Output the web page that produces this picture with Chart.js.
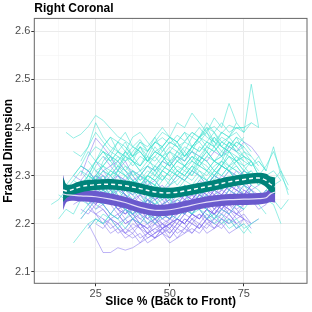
<!DOCTYPE html>
<html>
<head>
<meta charset="utf-8">
<script src="https://cdn.jsdelivr.net/npm/chart.js@4.4.1/dist/chart.umd.min.js"></script>
<style>
  html, body { margin: 0; padding: 0; background: #fff; }
  #fdChart { display: block; }
</style>
</head>
<body>
<canvas id="fdChart" width="312" height="312"></canvas>
<script>
// slice positions shared by the per-subject traces
const sliceGrid = [10, 12.5, 15, 17.5, 20, 22.5, 25, 27.5, 30, 32.5, 35, 37.5, 40, 42.5, 45, 47.5, 50,
  52.5, 55, 57.5, 60, 62.5, 65, 67.5, 70, 72.5, 75, 77.5, 80, 82.5, 85, 87.5, 90];

// turquoise group: index into sliceGrid where each trace starts, then its values
const tealStarts = [2, 4, 10, 6, 0, 1, 3, 4, 5, 6, 4, 3, 6, 5, 7, 4, 8, 2, 6, 5, 7, 3, 9, 28,
  3, 5, 4, 6, 2, 7, 4, 8, 5, 3, 6, 9, 1, 5, 7, 4, 29, 10];
const tealLines = [
  [2.39, 2.378, 2.386, 2.402, 2.425, 2.415, 2.398, 2.381, 2.372, 2.36, 2.375, 2.352, 2.368, 2.379, 2.366, 2.384, 2.372, 2.39, 2.378, 2.395, 2.402, 2.388, 2.405, 2.398, 2.4],
  [2.33, 2.36, 2.41, 2.38, 2.36, 2.35, 2.37, 2.34, 2.36, 2.35, 2.37, 2.39, 2.38, 2.41, 2.40, 2.43, 2.41, 2.39, 2.42, 2.40, 2.45, 2.41],
  [2.31, 2.33, 2.32, 2.34, 2.31, 2.33, 2.35, 2.33, 2.34, 2.36, 2.35, 2.37, 2.36, 2.39, 2.38, 2.41, 2.39, 2.49, 2.40],
  [2.30, 2.32, 2.34, 2.33, 2.35, 2.33, 2.36, 2.34, 2.37, 2.36, 2.38, 2.37, 2.39, 2.36, 2.38, 2.40, 2.39, 2.41, 2.39, 2.40, 2.40, 2.41, 2.40],
  [2.24, 2.25, 2.27, 2.29, 2.28, 2.30, 2.29, 2.31, 2.30, 2.32, 2.30, 2.31, 2.29, 2.30, 2.32, 2.31, 2.33, 2.31, 2.32, 2.34, 2.33, 2.35, 2.33, 2.34, 2.32, 2.33, 2.31, 2.33, 2.30, 2.32, 2.35, 2.31, 2.26],
  [2.21, 2.23, 2.22, 2.25, 2.24, 2.26, 2.27, 2.25, 2.28, 2.27, 2.29, 2.28, 2.30, 2.29, 2.31, 2.30, 2.32, 2.31, 2.33, 2.32, 2.34, 2.33, 2.32, 2.31, 2.29, 2.30, 2.28, 2.27, 2.25, 2.24, 2.20],
  [2.16, 2.18, 2.20, 2.21, 2.20, 2.22, 2.21, 2.23, 2.22, 2.24, 2.23, 2.22, 2.24, 2.25, 2.23, 2.24, 2.22, 2.23, 2.21, 2.22, 2.20, 2.21, 2.19, 2.20, 2.18],
  [2.26, 2.28, 2.30, 2.32, 2.31, 2.33, 2.35, 2.34, 2.36, 2.33, 2.35, 2.34, 2.32, 2.35, 2.37, 2.36, 2.38, 2.36, 2.35, 2.37, 2.36, 2.38, 2.35, 2.33, 2.30],
  [2.30, 2.33, 2.35, 2.34, 2.37, 2.39, 2.36, 2.35, 2.33, 2.36, 2.34, 2.35, 2.37, 2.35, 2.38, 2.37, 2.39, 2.36, 2.38, 2.37, 2.35, 2.36],
  [2.28, 2.30, 2.29, 2.31, 2.30, 2.28, 2.30, 2.29, 2.27, 2.29, 2.31, 2.30, 2.32, 2.31, 2.33, 2.32, 2.30, 2.32, 2.31, 2.33, 2.32, 2.30, 2.29],
  [2.22, 2.24, 2.26, 2.25, 2.27, 2.26, 2.24, 2.25, 2.23, 2.25, 2.24, 2.26, 2.25, 2.27, 2.26, 2.28, 2.27, 2.29, 2.28, 2.27, 2.29, 2.28, 2.26, 2.25, 2.24, 2.22],
  [2.30, 2.32, 2.31, 2.33, 2.35, 2.34, 2.32, 2.34, 2.33, 2.31, 2.33, 2.32, 2.34, 2.33, 2.35, 2.34, 2.36, 2.35, 2.37, 2.36, 2.34, 2.35, 2.33, 2.34, 2.32, 2.33, 2.31],
  [2.25, 2.27, 2.26, 2.28, 2.27, 2.25, 2.27, 2.26, 2.24, 2.25, 2.27, 2.26, 2.28, 2.27, 2.29, 2.31, 2.30, 2.32, 2.31, 2.29, 2.30, 2.28],
  [2.34, 2.36, 2.35, 2.33, 2.35, 2.34, 2.36, 2.35, 2.33, 2.34, 2.36, 2.38, 2.37, 2.39, 2.38, 2.40, 2.38, 2.37, 2.39, 2.38, 2.36],
  [2.24, 2.22, 2.24, 2.23, 2.21, 2.23, 2.22, 2.20, 2.22, 2.21, 2.23, 2.22, 2.24, 2.23, 2.22, 2.20, 2.21, 2.19, 2.20, 2.18, 2.20, 2.21],
  [2.29, 2.27, 2.29, 2.28, 2.26, 2.28, 2.27, 2.29, 2.28, 2.30, 2.29, 2.31, 2.30, 2.28, 2.30, 2.29, 2.31, 2.30, 2.32, 2.33, 2.31, 2.32, 2.30, 2.31, 2.29, 2.30, 2.28, 2.29],
  [2.32, 2.34, 2.33, 2.35, 2.37, 2.36, 2.38, 2.35, 2.37, 2.36, 2.34, 2.36, 2.38, 2.37, 2.39, 2.36, 2.35, 2.33, 2.34],
  [2.27, 2.25, 2.27, 2.29, 2.28, 2.26, 2.28, 2.27, 2.25, 2.27, 2.26, 2.24, 2.26, 2.25, 2.27, 2.26, 2.28, 2.27, 2.25, 2.26, 2.24, 2.25, 2.27, 2.26, 2.28, 2.27, 2.25, 2.27, 2.29, 2.31, 2.28],
  [2.31, 2.29, 2.31, 2.30, 2.32, 2.31, 2.29, 2.31, 2.30, 2.32, 2.31, 2.33, 2.32, 2.34, 2.33, 2.35, 2.33, 2.32, 2.34, 2.33, 2.35, 2.34, 2.32],
  [2.19, 2.21, 2.20, 2.22, 2.21, 2.19, 2.21, 2.20, 2.22, 2.21, 2.23, 2.22, 2.21, 2.23, 2.22, 2.24, 2.23, 2.21, 2.22, 2.20, 2.21, 2.19, 2.20],
  [2.35, 2.33, 2.35, 2.34, 2.32, 2.34, 2.33, 2.35, 2.34, 2.32, 2.34, 2.33, 2.35, 2.34, 2.36, 2.35, 2.37, 2.36, 2.38, 2.37, 2.35],
  [2.25, 2.28, 2.30, 2.29, 2.31, 2.30, 2.28, 2.30, 2.29, 2.27, 2.29, 2.28, 2.30, 2.29, 2.31, 2.30, 2.32, 2.30, 2.29, 2.31, 2.30, 2.32, 2.31, 2.29, 2.30, 2.28, 2.30, 2.31, 2.29],
  [2.27, 2.29, 2.28, 2.30, 2.32, 2.31, 2.29, 2.31, 2.33, 2.32, 2.30, 2.32, 2.31, 2.33, 2.35, 2.34, 2.32, 2.30, 2.31],
  [2.33, 2.31, 2.36, 2.30, 2.27],
  [2.29, 2.31, 2.30, 2.33, 2.32, 2.30, 2.31, 2.34, 2.33, 2.31, 2.32, 2.30, 2.33, 2.35, 2.34, 2.32, 2.33, 2.36, 2.35, 2.33, 2.34, 2.37, 2.36, 2.34, 2.33, 2.31],
  [2.27, 2.26, 2.29, 2.31, 2.30, 2.28, 2.27, 2.30, 2.29, 2.28, 2.31, 2.33, 2.31, 2.30, 2.32, 2.34, 2.33, 2.31, 2.30, 2.32, 2.31],
  [2.32, 2.35, 2.33, 2.36, 2.38, 2.35, 2.33, 2.34, 2.32, 2.35, 2.37, 2.36, 2.33, 2.34, 2.36, 2.35, 2.38, 2.40, 2.37, 2.36, 2.38, 2.39, 2.37],
  [2.23, 2.25, 2.24, 2.27, 2.26, 2.24, 2.23, 2.26, 2.28, 2.26, 2.25, 2.27, 2.29, 2.28, 2.26, 2.28, 2.30, 2.29, 2.27, 2.29, 2.28, 2.26],
  [2.28, 2.30, 2.32, 2.31, 2.29, 2.33, 2.35, 2.34, 2.32, 2.30, 2.31, 2.29, 2.31, 2.33, 2.32, 2.30, 2.29, 2.31, 2.34, 2.33, 2.31, 2.33, 2.36, 2.35, 2.33, 2.32, 2.34, 2.31],
  [2.36, 2.38, 2.37, 2.35, 2.38, 2.39, 2.37, 2.35, 2.36, 2.38, 2.37, 2.34, 2.36, 2.38, 2.39, 2.37, 2.35, 2.37, 2.36, 2.38],
  [2.21, 2.23, 2.25, 2.24, 2.26, 2.25, 2.23, 2.22, 2.24, 2.26, 2.25, 2.23, 2.24, 2.27, 2.26, 2.24, 2.25, 2.28, 2.27, 2.25, 2.26, 2.24, 2.23, 2.25],
  [2.26, 2.29, 2.28, 2.26, 2.27, 2.30, 2.32, 2.30, 2.28, 2.29, 2.31, 2.30, 2.33, 2.31, 2.29, 2.32, 2.34, 2.33, 2.31, 2.30],
  [2.33, 2.31, 2.32, 2.34, 2.33, 2.31, 2.30, 2.28, 2.30, 2.29, 2.27, 2.29, 2.31, 2.30, 2.32, 2.31, 2.29, 2.31, 2.33, 2.32, 2.34, 2.33],
  [2.35, 2.34, 2.36, 2.39, 2.37, 2.35, 2.37, 2.36, 2.34, 2.35, 2.33, 2.35, 2.34, 2.36, 2.35, 2.33, 2.36, 2.37, 2.35, 2.38, 2.36, 2.35, 2.37, 2.36],
  [2.20, 2.22, 2.21, 2.19, 2.21, 2.23, 2.22, 2.20, 2.22, 2.21, 2.23, 2.25, 2.24, 2.22, 2.24, 2.23, 2.21, 2.23, 2.22, 2.24, 2.23],
  [2.30, 2.28, 2.31, 2.30, 2.32, 2.34, 2.32, 2.31, 2.33, 2.35, 2.33, 2.32, 2.34, 2.36, 2.34, 2.37, 2.35, 2.34, 2.33],
  [2.26, 2.25, 2.28, 2.27, 2.30, 2.29, 2.27, 2.28, 2.31, 2.30, 2.28, 2.27, 2.29, 2.28, 2.26, 2.28, 2.30, 2.29, 2.31, 2.30, 2.28, 2.30, 2.32, 2.31, 2.29, 2.31, 2.30, 2.28, 2.29],
  [2.29, 2.32, 2.34, 2.33, 2.31, 2.35, 2.33, 2.32, 2.34, 2.33, 2.35, 2.37, 2.36, 2.34, 2.35, 2.33, 2.36, 2.38, 2.36, 2.35, 2.37, 2.36, 2.34],
  [2.24, 2.26, 2.25, 2.27, 2.29, 2.27, 2.26, 2.28, 2.27, 2.25, 2.27, 2.26, 2.28, 2.30, 2.29, 2.27, 2.29, 2.31, 2.30, 2.28],
  [2.31, 2.29, 2.30, 2.28, 2.30, 2.32, 2.31, 2.29, 2.27, 2.28, 2.30, 2.29, 2.31, 2.30, 2.32, 2.34, 2.32, 2.31, 2.33, 2.32, 2.35, 2.34, 2.32, 2.33],
  [2.27, 2.25, 2.23, 2.25],
  [2.36, 2.34, 2.37, 2.35, 2.38, 2.40, 2.38, 2.36, 2.37, 2.39, 2.38, 2.41, 2.39, 2.37, 2.38, 2.40, 2.39, 2.41]
];

// purple group
const purpleStarts = [4, 8, 5, 3, 5, 4, 6, 5, 7, 4, 6, 8, 3, 5, 6, 7, 4, 9, 5, 6,
  5, 4, 7, 3, 6, 8, 5, 4, 6, 9, 3, 7, 5, 6, 4, 8, 6, 10];
const purpleLines = [
  [2.30, 2.34, 2.378, 2.36, 2.34, 2.31, 2.33, 2.30, 2.28, 2.29, 2.27, 2.28, 2.26, 2.27, 2.25, 2.26, 2.24, 2.25, 2.23, 2.24, 2.22],
  [2.28, 2.30, 2.29, 2.31, 2.30, 2.32, 2.31, 2.33, 2.32, 2.34, 2.33, 2.35, 2.34, 2.33, 2.35, 2.34, 2.36, 2.35, 2.37, 2.36, 2.34],
  [2.20, 2.17, 2.14, 2.14, 2.15, 2.145, 2.15, 2.16, 2.17, 2.18, 2.19, 2.20, 2.21, 2.20, 2.22, 2.21, 2.23, 2.22, 2.24, 2.23],
  [2.27, 2.26, 2.25, 2.27, 2.26, 2.24, 2.25, 2.23, 2.22, 2.23, 2.21, 2.22, 2.20, 2.21, 2.22, 2.23, 2.22, 2.24, 2.23, 2.25, 2.24, 2.26, 2.25, 2.27, 2.26, 2.25, 2.27, 2.26],
  [2.24, 2.22, 2.23, 2.21, 2.20, 2.21, 2.19, 2.20, 2.18, 2.19, 2.20, 2.19, 2.21, 2.20, 2.22, 2.21, 2.23, 2.22, 2.21, 2.23, 2.22, 2.24],
  [2.29, 2.28, 2.30, 2.29, 2.27, 2.28, 2.26, 2.25, 2.26, 2.24, 2.25, 2.23, 2.24, 2.25, 2.24, 2.26, 2.25, 2.27, 2.26, 2.28, 2.27, 2.29, 2.28, 2.27],
  [2.22, 2.21, 2.19, 2.20, 2.18, 2.19, 2.17, 2.18, 2.19, 2.18, 2.20, 2.19, 2.21, 2.20, 2.19, 2.21, 2.20, 2.22, 2.21, 2.19, 2.20],
  [2.26, 2.27, 2.25, 2.26, 2.24, 2.23, 2.24, 2.22, 2.23, 2.21, 2.22, 2.23, 2.22, 2.24, 2.23, 2.25, 2.24, 2.26, 2.25, 2.24, 2.26, 2.25, 2.27, 2.26],
  [2.31, 2.29, 2.30, 2.28, 2.27, 2.28, 2.26, 2.27, 2.25, 2.26, 2.27, 2.26, 2.28, 2.27, 2.29, 2.28, 2.30, 2.29, 2.31, 2.30, 2.28],
  [2.23, 2.22, 2.24, 2.23, 2.21, 2.22, 2.20, 2.21, 2.19, 2.20, 2.18, 2.19, 2.20, 2.21, 2.20, 2.22, 2.21, 2.23, 2.22, 2.24, 2.23, 2.22, 2.21, 2.20, 2.21],
  [2.33, 2.31, 2.32, 2.30, 2.29, 2.27, 2.28, 2.26, 2.25, 2.26, 2.24, 2.25, 2.26, 2.25, 2.27, 2.26, 2.28, 2.27, 2.29, 2.28, 2.30, 2.29],
  [2.25, 2.24, 2.22, 2.23, 2.21, 2.20, 2.21, 2.19, 2.20, 2.21, 2.20, 2.22, 2.21, 2.23, 2.22, 2.24, 2.23, 2.21, 2.22, 2.20],
  [2.24, 2.25, 2.27, 2.26, 2.24, 2.25, 2.23, 2.24, 2.22, 2.21, 2.22, 2.20, 2.21, 2.22, 2.21, 2.23, 2.22, 2.24, 2.23, 2.25, 2.24, 2.26, 2.25, 2.24, 2.25, 2.23, 2.24, 2.26],
  [2.28, 2.30, 2.29, 2.27, 2.28, 2.26, 2.25, 2.24, 2.25, 2.23, 2.24, 2.25, 2.24, 2.26, 2.25, 2.27, 2.26, 2.25, 2.27, 2.26, 2.28, 2.27, 2.26],
  [2.20, 2.19, 2.21, 2.20, 2.18, 2.17, 2.18, 2.16, 2.17, 2.18, 2.17, 2.19, 2.18, 2.20, 2.19, 2.21, 2.20, 2.19, 2.21, 2.20],
  [2.27, 2.26, 2.24, 2.25, 2.23, 2.22, 2.23, 2.21, 2.22, 2.23, 2.22, 2.24, 2.23, 2.25, 2.24, 2.26, 2.25, 2.27, 2.26, 2.25, 2.24, 2.26],
  [2.32, 2.31, 2.29, 2.30, 2.28, 2.29, 2.27, 2.28, 2.26, 2.27, 2.25, 2.26, 2.27, 2.26, 2.28, 2.27, 2.29, 2.28, 2.30, 2.29, 2.31, 2.30, 2.29],
  [2.23, 2.21, 2.22, 2.20, 2.19, 2.20, 2.18, 2.19, 2.17, 2.18, 2.19, 2.18, 2.20, 2.19, 2.21, 2.20, 2.22, 2.21, 2.19],
  [2.25, 2.24, 2.26, 2.24, 2.22, 2.23, 2.21, 2.22, 2.20, 2.21, 2.22, 2.21, 2.23, 2.22, 2.24, 2.23, 2.25, 2.24, 2.23, 2.25, 2.24, 2.26, 2.25],
  [2.29, 2.27, 2.28, 2.26, 2.24, 2.25, 2.23, 2.24, 2.22, 2.23, 2.24, 2.23, 2.25, 2.24, 2.26, 2.25, 2.27, 2.26, 2.28, 2.27, 2.26, 2.28],
  [2.25, 2.23, 2.24, 2.22, 2.24, 2.23, 2.21, 2.20, 2.22, 2.21, 2.19, 2.21, 2.20, 2.22, 2.24, 2.23, 2.21, 2.22, 2.24, 2.25, 2.23, 2.24],
  [2.27, 2.29, 2.28, 2.26, 2.25, 2.27, 2.26, 2.24, 2.23, 2.25, 2.24, 2.22, 2.24, 2.23, 2.25, 2.24, 2.26, 2.27, 2.25, 2.26, 2.28, 2.27, 2.26, 2.28],
  [2.21, 2.20, 2.18, 2.19, 2.21, 2.20, 2.18, 2.17, 2.19, 2.20, 2.18, 2.19, 2.21, 2.22, 2.20, 2.21, 2.23, 2.22, 2.20, 2.21],
  [2.30, 2.29, 2.31, 2.29, 2.28, 2.26, 2.27, 2.29, 2.27, 2.25, 2.24, 2.26, 2.25, 2.23, 2.24, 2.26, 2.25, 2.27, 2.28, 2.26, 2.27, 2.29, 2.28, 2.26, 2.27, 2.28],
  [2.24, 2.26, 2.25, 2.23, 2.22, 2.24, 2.23, 2.21, 2.20, 2.22, 2.21, 2.23, 2.22, 2.24, 2.23, 2.21, 2.23, 2.25, 2.24, 2.22, 2.23],
  [2.30, 2.28, 2.27, 2.29, 2.27, 2.25, 2.26, 2.24, 2.25, 2.27, 2.26, 2.28, 2.27, 2.25, 2.27, 2.29, 2.28, 2.30, 2.29],
  [2.19, 2.21, 2.20, 2.18, 2.19, 2.17, 2.18, 2.16, 2.18, 2.17, 2.19, 2.18, 2.20, 2.19, 2.21, 2.20, 2.18, 2.19, 2.21, 2.20],
  [2.26, 2.24, 2.25, 2.27, 2.25, 2.23, 2.22, 2.24, 2.22, 2.21, 2.23, 2.21, 2.20, 2.22, 2.24, 2.23, 2.25, 2.24, 2.22, 2.23, 2.25, 2.24, 2.26],
  [2.28, 2.27, 2.29, 2.28, 2.26, 2.24, 2.26, 2.25, 2.23, 2.24, 2.26, 2.24, 2.23, 2.25, 2.27, 2.26, 2.24, 2.26, 2.28, 2.27, 2.29, 2.27],
  [2.22, 2.20, 2.21, 2.19, 2.18, 2.20, 2.19, 2.17, 2.19, 2.21, 2.20, 2.22, 2.21, 2.19, 2.20, 2.22, 2.24, 2.23],
  [2.25, 2.27, 2.26, 2.24, 2.26, 2.25, 2.23, 2.24, 2.22, 2.23, 2.25, 2.24, 2.22, 2.21, 2.23, 2.22, 2.24, 2.26, 2.25, 2.23, 2.25, 2.27, 2.26, 2.24, 2.26, 2.25, 2.27],
  [2.34, 2.32, 2.33, 2.31, 2.29, 2.30, 2.28, 2.29, 2.27, 2.28, 2.30, 2.29, 2.31, 2.30, 2.28, 2.30, 2.32, 2.31, 2.29, 2.31],
  [2.23, 2.25, 2.24, 2.22, 2.21, 2.23, 2.22, 2.20, 2.19, 2.21, 2.20, 2.18, 2.20, 2.22, 2.21, 2.19, 2.21, 2.23, 2.22, 2.24, 2.23, 2.21],
  [2.26, 2.28, 2.27, 2.25, 2.27, 2.26, 2.24, 2.22, 2.23, 2.21, 2.22, 2.24, 2.23, 2.25, 2.24, 2.26, 2.25, 2.23, 2.25, 2.27, 2.26, 2.28],
  [2.21, 2.23, 2.22, 2.20, 2.21, 2.19, 2.18, 2.20, 2.19, 2.17, 2.18, 2.20, 2.19, 2.21, 2.20, 2.18, 2.20, 2.22, 2.21, 2.23, 2.22, 2.20],
  [2.27, 2.25, 2.26, 2.24, 2.23, 2.25, 2.24, 2.22, 2.21, 2.23, 2.25, 2.24, 2.26, 2.25, 2.27, 2.26, 2.24, 2.26, 2.28, 2.27, 2.25],
  [2.31, 2.30, 2.28, 2.29, 2.27, 2.26, 2.28, 2.27, 2.25, 2.26, 2.24, 2.26, 2.25, 2.27, 2.26, 2.28, 2.30, 2.29, 2.27, 2.29, 2.31, 2.30],
  [2.19, 2.18, 2.20, 2.19, 2.17, 2.18, 2.16, 2.17, 2.19, 2.18, 2.20, 2.19, 2.21, 2.20, 2.18, 2.19, 2.21]
];

// smoothed group means with their bands
const bandX = [14, 15.5, 20, 25, 30, 35, 40, 45, 50, 55, 60, 65, 70, 75, 80, 82.5, 84, 85.6];
const tealMid = [2.270, 2.268, 2.277, 2.281, 2.282, 2.279, 2.273, 2.266, 2.264, 2.268, 2.274, 2.280, 2.287, 2.292, 2.295, 2.290, 2.282, 2.277];
const tealLo = [2.245, 2.255, 2.265, 2.270, 2.271, 2.268, 2.262, 2.255, 2.253, 2.257, 2.263, 2.269, 2.276, 2.281, 2.284, 2.276, 2.266, 2.262];
const tealHi = [2.296, 2.281, 2.289, 2.292, 2.293, 2.290, 2.284, 2.277, 2.275, 2.279, 2.285, 2.291, 2.298, 2.303, 2.306, 2.304, 2.298, 2.296];
const purpleMid = [2.262, 2.260, 2.258, 2.256, 2.251, 2.244, 2.234, 2.228, 2.229, 2.235, 2.242, 2.247, 2.250, 2.251, 2.252, 2.254, 2.262, 2.266];
const purpleLo = [2.228, 2.246, 2.246, 2.244, 2.239, 2.232, 2.222, 2.216, 2.217, 2.223, 2.230, 2.235, 2.238, 2.239, 2.240, 2.242, 2.245, 2.244];
const purpleHi = [2.302, 2.274, 2.270, 2.268, 2.263, 2.256, 2.246, 2.240, 2.241, 2.247, 2.254, 2.259, 2.262, 2.263, 2.264, 2.266, 2.274, 2.278];

const TEAL_LINE = 'rgba(64, 224, 208, 0.55)';
const PURPLE_LINE = 'rgba(123, 104, 238, 0.5)';
const TEAL_BAND = '#00837A';
const PURPLE_BAND = '#6A5ACD';

Chart.defaults.font.family = '"Liberation Sans", Arial, sans-serif';

function traces(lines, starts, color) {
  return lines.map((vals, i) => ({
    data: vals.slice(0, sliceGrid.length - starts[i]).map((v, k) => ({ x: sliceGrid[starts[i] + k], y: v })),
    borderColor: color,
    borderWidth: 1,
    pointRadius: 0,
    tension: 0,
    order: 50
  }));
}

function curve(ys, extra) {
  return Object.assign({
    data: bandX.map((x, i) => ({ x: x, y: ys[i] })),
    pointRadius: 0,
    tension: 0.35,
    fill: false
  }, extra);
}

const isMajor = (v, step) => Math.abs(v / step - Math.round(v / step)) < 1e-6;

const datasets = [
  ...traces(tealLines, tealStarts, TEAL_LINE),
  ...traces(purpleLines, purpleStarts, PURPLE_LINE),
  curve(purpleLo, { borderWidth: 0, borderColor: 'transparent', order: 30 }),
  curve(purpleHi, { borderWidth: 0, borderColor: 'transparent', fill: '-1', backgroundColor: PURPLE_BAND, order: 29 }),
  curve(tealLo, { borderWidth: 0, borderColor: 'transparent', order: 20 }),
  curve(tealHi, { borderWidth: 0, borderColor: 'transparent', fill: '-1', backgroundColor: TEAL_BAND, order: 19 }),
  curve(purpleMid, { borderWidth: 1.2, borderColor: '#E4DEF7', order: 5 }),
  curve(tealMid, { borderWidth: 1.4, borderColor: '#FFFFFF', borderDash: [4, 3], order: 4 })
];

// panel frame + title lined up with the panel like ggplot
const panelFrame = {
  id: 'panelFrame',
  afterLayout(chart) {
    if (chart.titleBlock) chart.titleBlock.left = chart.chartArea.left;
  },
  afterDatasetsDraw(chart) {
    const { ctx, chartArea: a } = chart;
    ctx.save();
    ctx.strokeStyle = '#666666';
    ctx.lineWidth = 1;
    ctx.strokeRect(a.left, a.top, a.right - a.left, a.bottom - a.top);
    ctx.restore();
  }
};

new Chart(document.getElementById('fdChart'), {
  type: 'line',
  data: { datasets: datasets },
  options: {
    responsive: false,
    animation: false,
    devicePixelRatio: 1,
    layout: { padding: { left: 0, right: 5, top: 0, bottom: 0 } },
    plugins: {
      legend: { display: false },
      tooltip: { enabled: false },
      title: {
        display: true,
        text: 'Right Coronal',
        align: 'start',
        color: '#000',
        font: { size: 12, weight: 'bold', lineHeight: 1.2 },
        padding: { top: 1, bottom: 3 }
      }
    },
    scales: {
      x: {
        type: 'linear',
        min: 4.3,
        max: 96.3,
        border: { display: false },
        grid: {
          color: c => isMajor(c.tick.value, 25) ? '#EBEBEB' : '#F4F4F4',
          lineWidth: c => isMajor(c.tick.value, 25) ? 1 : 0.6,
          tickColor: c => isMajor(c.tick.value, 25) ? '#333333' : 'rgba(0,0,0,0)',
          tickLength: 3
        },
        ticks: {
          stepSize: 12.5,
          includeBounds: false,
          autoSkip: false,
          maxRotation: 0,
          padding: 1,
          color: '#4D4D4D',
          font: { size: 11 },
          callback: v => isMajor(v, 25) ? String(v) : ''
        },
        title: {
          display: true,
          text: 'Slice % (Back to Front)',
          color: '#000',
          font: { size: 12, weight: 'bold', lineHeight: 1.2 },
          padding: { top: 0, bottom: 3 }
        },
        afterFit: s => { s.height = 28.7; }
      },
      y: {
        min: 2.076,
        max: 2.627,
        border: { display: false },
        grid: {
          color: c => isMajor(c.tick.value, 0.1) ? '#EBEBEB' : '#F4F4F4',
          lineWidth: c => isMajor(c.tick.value, 0.1) ? 1 : 0.6,
          tickColor: c => isMajor(c.tick.value, 0.1) ? '#333333' : 'rgba(0,0,0,0)',
          tickLength: 3
        },
        ticks: {
          stepSize: 0.05,
          includeBounds: false,
          autoSkip: false,
          padding: 1,
          color: '#4D4D4D',
          font: { size: 11 },
          callback: v => isMajor(v, 0.1) ? v.toFixed(1) : ''
        },
        title: {
          display: true,
          text: 'Fractal Dimension',
          color: '#000',
          font: { size: 12, weight: 'bold', lineHeight: 1.2 },
          padding: { top: 1, bottom: 0 }
        },
        afterFit: s => { s.width = 34.3; }
      }
    }
  },
  plugins: [panelFrame]
});
</script>
</body>
</html>
